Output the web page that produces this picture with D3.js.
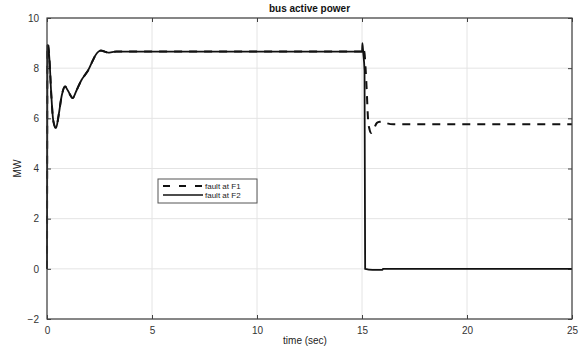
<!DOCTYPE html>
<html><head><meta charset="utf-8">
<script src="https://cdn.jsdelivr.net/npm/d3@7/dist/d3.min.js"></script>
<style>body{margin:0;background:#fff}svg{display:block;font-family:"Liberation Sans",Arial,sans-serif}</style>
</head><body><svg id="c" width="579" height="350"></svg>
<script>
const title = "bus active power";
const xLabel = "time (sec)";
const yLabel = "MW";
const xTicks = [0,5,10,15,20,25];
const yTicks = [-2,0,2,4,6,8,10];
const seriesNames = ["fault at F1","fault at F2"];
// shared transient at start
const startT = [0,0.02,0.05,0.12,0.2,0.3,0.43,0.55,0.7,0.86,1.0,1.22,1.4,1.65,1.8,1.97,2.15,2.29,2.45,2.57,2.75,2.92,3.1,3.3,5,10,14.98];
const startV = [0,8.9,8.93,8.3,7.0,5.9,5.61,6.1,6.9,7.27,7.1,6.81,7.1,7.54,7.72,7.93,8.25,8.49,8.66,8.7,8.66,8.62,8.64,8.66,8.66,8.66,8.66];
const f1T = [15.0,15.05,15.12,15.17,15.22,15.29,15.36,15.43,15.55,15.71,15.85,16.0,16.2,16.5,17,20,25];
const f1V = [8.66,8.8,8.6,8.0,7.2,5.94,5.55,5.42,5.55,5.82,5.86,5.87,5.8,5.76,5.76,5.76,5.76];
const f2T = [15.0,15.02,15.06,15.12,15.15,15.5,15.98,16.0,20,25];
const f2V = [8.66,9.0,8.6,7.9,0,-0.04,-0.04,0,0,0];

const svg = d3.select("#c");
const m = {l:47, r:572, t:18, b:319};
const x = d3.scaleLinear().domain([0,25]).range([m.l,m.r]);
const y = d3.scaleLinear().domain([-2,10]).range([m.b,m.t]);
const axisCol = "#404040";

// grid
svg.append("g").selectAll("line").data(xTicks).join("line")
  .attr("x1",d=>x(d)).attr("x2",d=>x(d)).attr("y1",m.t).attr("y2",m.b)
  .attr("stroke","#e4e4e4").attr("stroke-width",1);
svg.append("g").selectAll("line").data(yTicks).join("line")
  .attr("y1",d=>y(d)).attr("y2",d=>y(d)).attr("x1",m.l).attr("x2",m.r)
  .attr("stroke","#e4e4e4").attr("stroke-width",1);

// axes (inward ticks)
const ax = (g)=>g.selectAll(".domain").remove();
svg.append("g").attr("transform",`translate(0,${m.b})`)
  .call(d3.axisBottom(x).tickValues(xTicks).tickSizeInner(-4).tickSizeOuter(0).tickPadding(8).tickFormat(d3.format("d")))
  .call(ax).call(g=>{g.selectAll("line").attr("stroke",axisCol);g.selectAll("text").attr("fill","#333").style("font-size","10px");});
svg.append("g").attr("transform",`translate(0,${m.t})`)
  .call(d3.axisTop(x).tickValues(xTicks).tickSizeInner(-4).tickSizeOuter(0).tickFormat(""))
  .call(ax).call(g=>g.selectAll("line").attr("stroke",axisCol));
svg.append("g").attr("transform",`translate(${m.l},0)`)
  .call(d3.axisLeft(y).tickValues(yTicks).tickSizeInner(-4).tickSizeOuter(0).tickPadding(8).tickFormat(d3.format("d")))
  .call(ax).call(g=>{g.selectAll("line").attr("stroke",axisCol);g.selectAll("text").attr("fill","#333").style("font-size","10px");});
svg.append("g").attr("transform",`translate(${m.r},0)`)
  .call(d3.axisRight(y).tickValues(yTicks).tickSizeInner(-4).tickSizeOuter(0).tickFormat(""))
  .call(ax).call(g=>g.selectAll("line").attr("stroke",axisCol));

// lines
const line = d3.line().x(d=>x(d[0])).y(d=>y(d[1])).curve(d3.curveMonotoneX);
const f1 = startT.map((t,i)=>[t,startV[i]]).concat(f1T.map((t,i)=>[t,f1V[i]]));
const f2 = startT.map((t,i)=>[t,startV[i]]).concat(f2T.map((t,i)=>[t,f2V[i]]));
svg.append("path").datum(f2).attr("d",line).attr("fill","none").attr("stroke","#111").attr("stroke-width",1.8);
svg.append("path").datum(f1).attr("d",line).attr("fill","none").attr("stroke","#111").attr("stroke-width",2).attr("stroke-dasharray","8,7");

// box
svg.append("rect").attr("x",m.l).attr("y",m.t).attr("width",m.r-m.l).attr("height",m.b-m.t)
  .attr("fill","none").attr("stroke",axisCol).attr("stroke-width",1.2);

// labels
svg.append("text").attr("x",(m.l+m.r)/2).attr("y",12).attr("text-anchor","middle")
  .style("font-size","10px").style("font-weight","bold").attr("fill","#111").text(title);
svg.append("text").attr("x",305).attr("y",344).attr("text-anchor","middle")
  .style("font-size","10px").attr("fill","#222").text(xLabel);
svg.append("text").attr("transform",`translate(21,${(m.t+m.b)/2}) rotate(-90)`).attr("text-anchor","middle")
  .style("font-size","10px").attr("fill","#222").text(yLabel);

// legend
const lg = svg.append("g");
lg.append("rect").attr("x",158).attr("y",179).attr("width",99).attr("height",24)
  .attr("fill","#fff").attr("stroke","#555").attr("stroke-width",1);
const ls = [{dash:"7,9",w:2},{dash:null,w:1.3}];
seriesNames.forEach((n,i)=>{
  const yy = 186 + i*9;
  const l = lg.append("line").attr("x1",163).attr("x2",203).attr("y1",yy).attr("y2",yy)
    .attr("stroke","#111").attr("stroke-width",ls[i].w);
  if(ls[i].dash) l.attr("stroke-dasharray",ls[i].dash);
  lg.append("text").attr("x",205).attr("y",yy+3).style("font-size","8px").attr("fill","#222").text(n);
});
</script></body></html>
